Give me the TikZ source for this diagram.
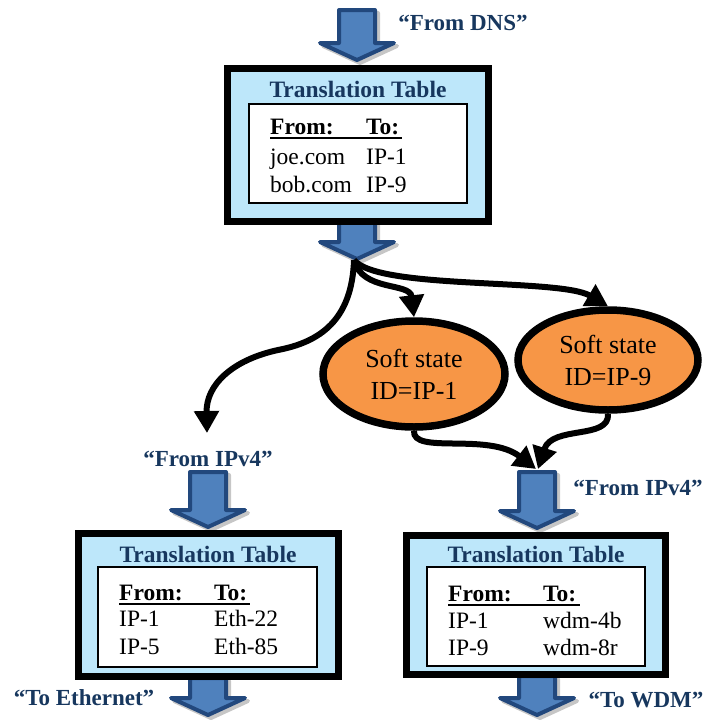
\documentclass[tikz,border=0pt]{standalone}
\usepackage{fontspec}
\setmainfont{Liberation Serif}
\usetikzlibrary{arrows.meta,shapes.geometric}
\definecolor{tblblue}{RGB}{189,231,250}
\definecolor{dkblue}{RGB}{23,55,94}
\definecolor{arrfill}{RGB}{79,129,189}
\definecolor{arrline}{RGB}{34,72,125}
\definecolor{softorange}{RGB}{247,150,70}
\tikzset{
  arrowbody/.style={fill=arrfill, draw=arrline, line width=4pt, line join=round},
  arrowshadow/.style={fill=gray!45, draw=gray!45, line width=4pt, line join=round},
  outerbox/.style={fill=tblblue, draw=black, line width=7pt},
  innerbox/.style={fill=white, draw=black, line width=1.5pt},
  ttitle/.style={font=\fontsize{23.5}{27}\selectfont\bfseries, text=dkblue, anchor=base, inner sep=0pt},
  tcell/.style={font=\fontsize{23.5}{27}\selectfont, anchor=base west, inner sep=0pt},
  thead/.style={font=\fontsize{23.5}{27}\selectfont\bfseries, anchor=base west, inner sep=0pt},
  flowlabel/.style={font=\fontsize{23}{26}\selectfont\bfseries, text=dkblue, inner sep=0pt},
  softnode/.style={ellipse, fill=softorange, draw=black, line width=7.5pt, inner sep=0pt,
     font=\fontsize{26}{32}\selectfont, align=center},
  conn/.style={line width=6pt, -{Triangle[length=22pt,width=24pt]}},
}
\newcommand\bluearrow[3]{%
  \begin{scope}[shift={(3,3)}]
  \filldraw[arrowshadow] ({#1-18},#2) -- ({#1+18},#2) -- ({#1+18},{#3-17}) -- ({#1+37},{#3-17}) -- (#1,#3) -- ({#1-37},{#3-17}) -- ({#1-18},{#3-17}) -- cycle;
  \end{scope}
  \filldraw[arrowbody] ({#1-18},#2) -- ({#1+18},#2) -- ({#1+18},{#3-17}) -- ({#1+37},{#3-17}) -- (#1,#3) -- ({#1-37},{#3-17}) -- ({#1-18},{#3-17}) -- cycle;
}
\begin{document}
\begin{tikzpicture}[x=1pt,y=-1pt]
\useasboundingbox (0,0) rectangle (708,721);

% block arrows
\bluearrow{357}{10}{60}
\bluearrow{357}{222}{259}
\bluearrow{208}{472}{527}
\bluearrow{208}{678}{715}
\bluearrow{537}{472}{528}
\bluearrow{537}{676}{715}

% top table
\draw[outerbox] (227.5,68.5) rectangle (488.5,221.5);
\node[ttitle] (ttop) at (358,97) {Translation Table};
\draw[innerbox] (249,104) rectangle (467,203);
\node[thead] (tfromA) at (270,134) {From:};
\node[thead] (ttoA) at (366,134) {To:};
\draw[line width=2pt] (270,137.5) -- (402,137.5);
\node[tcell] (a1) at (270,164) {joe.com};
\node[tcell] (a2) at (366,164) {IP-1};
\node[tcell] (a3) at (270,192) {bob.com};
\node[tcell] (a4) at (366,192) {IP-9};

% left table
\draw[outerbox] (78.5,533.5) rectangle (338.5,676.5);
\node[ttitle] (tleft) at (208,562) {Translation Table};
\draw[innerbox] (98,567) rectangle (317,667);
\node[thead] (tfromB) at (119,600) {From:};
\node[thead] (ttoB) at (214,600) {To:};
\draw[line width=2pt] (119,603.5) -- (250,603.5);
\node[tcell] (b1) at (119,626) {IP-1};
\node[tcell] (b2) at (214,626) {Eth-22};
\node[tcell] (b3) at (119,654) {IP-5};
\node[tcell] (b4) at (214,654) {Eth-85};

% right table
\draw[outerbox] (406.5,535.5) rectangle (665.5,674.5);
\node[ttitle] (tright) at (536,562) {Translation Table};
\draw[innerbox] (427,567) rectangle (645,666);
\node[thead] (tfromC) at (448,601) {From:};
\node[thead] (ttoC) at (543,601) {To:};
\draw[line width=2pt] (448,604.5) -- (580,604.5);
\node[tcell] (c1) at (448,628) {IP-1};
\node[tcell] (c2) at (543,628) {wdm-4b};
\node[tcell] (c3) at (448,655) {IP-9};
\node[tcell] (c4) at (543,655) {wdm-8r};

% labels
\node[flowlabel] (ldns) at (463,23) {“From DNS”};
\node[flowlabel] (lipl) at (208,459) {“From IPv4”};
\node[flowlabel] (lipr) at (638,488) {“From IPv4”};
\node[flowlabel] (leth) at (84,698) {“To Ethernet”};
\node[flowlabel] (lwdm) at (646,700) {“To WDM”};

% soft state nodes
\node[softnode, minimum width=182pt, minimum height=106pt] (e1) at (414,374) {Soft state\\ID=IP-1};
\node[softnode, minimum width=180pt, minimum height=100pt] (e2) at (608,360) {Soft state\\ID=IP-9};

% connectors
\coordinate (split) at (354,260);
\coordinate (lefttip) at (207,433);
\coordinate (mergeL) at (536,469);
\coordinate (mergeR) at (538,469);
\draw[conn] (split) .. controls (352,320) and (320,342) .. (278,350) .. controls (232,360) and (206,385) .. (lefttip);
\draw[conn] (split) .. controls (362,292) and (410,282) .. (e1.north);
\draw[conn] (split) .. controls (378,290) and (560,278) .. (e2.north);
\draw[conn] (e1.south) .. controls (412,455) and (488,432) .. (mergeL);
\draw[conn] (e2.south) .. controls (610,440) and (552,425) .. (mergeR);
\end{tikzpicture}
\end{document}
